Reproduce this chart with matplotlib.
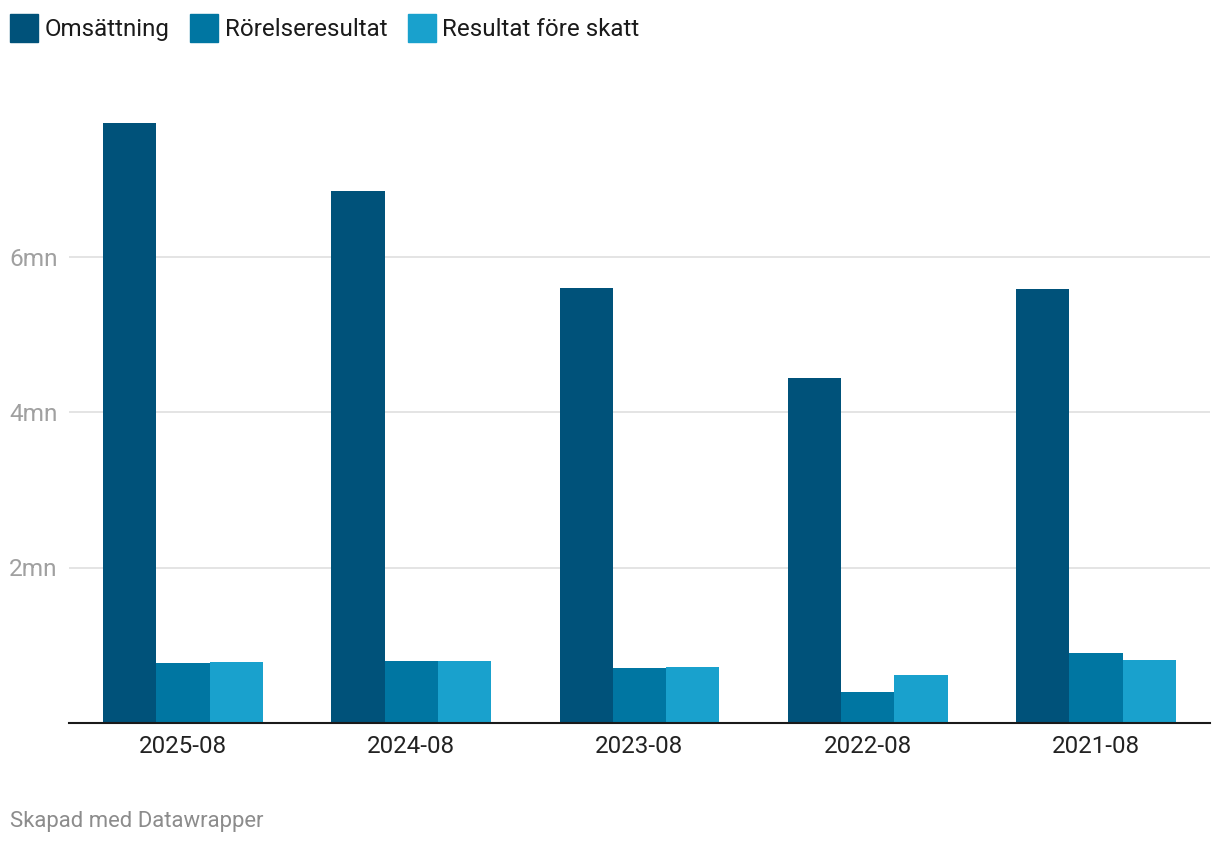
import matplotlib.pyplot as plt
import numpy as np
from matplotlib.patches import Rectangle

plt.rcParams['font.family'] = ['Roboto', 'DejaVu Sans']

years = ["2025-08", "2024-08", "2023-08", "2022-08", "2021-08"]
series = ["Omsättning", "Rörelseresultat", "Resultat före skatt"]
omsattning = [7.73, 6.85, 5.60, 4.44, 5.59]
rorelse = [0.77, 0.79, 0.70, 0.40, 0.90]
fore_skatt = [0.78, 0.79, 0.72, 0.61, 0.81]
colors = ["#00527a", "#0076a2", "#19a1cd"]
ytick_vals = [2, 4, 6]
ytick_labels = ["2mn", "4mn", "6mn"]

W, H = 1220, 844
fig = plt.figure(figsize=(W / 100, H / 100), dpi=100)
ax = fig.add_axes([69 / W, (H - 722.7) / H, (1210 - 69) / W, (722.7 - 101.9) / H])

x = np.arange(len(years))
bw = 0.2335
for i, vals in enumerate([omsattning, rorelse, fore_skatt]):
    ax.bar(x + (i - 1) * bw, vals, width=bw, color=colors[i], zorder=3, linewidth=0)

ax.set_xlim(-0.5, 4.5)
ax.set_ylim(0, 8)
ax.set_xticks(x)
ax.set_xticklabels(years, fontsize=17.4, color="#222222")
ax.set_yticks(ytick_vals)
ax.set_yticklabels(ytick_labels, fontsize=17.6, color="#a0a0a0", ha="left")
ax.tick_params(axis="y", length=0, pad=43)
ax.tick_params(axis="x", length=0, pad=9)
ax.grid(axis="y", color="#e2e2e2", linewidth=1.3, zorder=0)
for s in ["top", "right", "left"]:
    ax.spines[s].set_visible(False)
ax.spines["bottom"].set_color("#1a1a1a")
ax.spines["bottom"].set_linewidth(1.5)
ax.spines["bottom"].set_zorder(4)

# legend along the top
renderer = fig.canvas.get_renderer()
xpos = 10
for name, c in zip(series, colors):
    fig.patches.append(Rectangle((xpos / W, (H - 42) / H), 28 / W, 28 / H,
                                 transform=fig.transFigure, color=c))
    t = fig.text((xpos + 35) / W, (H - 29.5) / H, name, fontsize=17.4, color="#1a1a1a",
                 va="center", ha="left")
    bb = t.get_window_extent(renderer)
    xpos = bb.x1 + 20

fig.text(10 / W, (H - 822) / H, "Skapad med Datawrapper", fontsize=15.9,
         color="#8c8c8c", va="center", ha="left")

fig.savefig("out.png", dpi=100)
